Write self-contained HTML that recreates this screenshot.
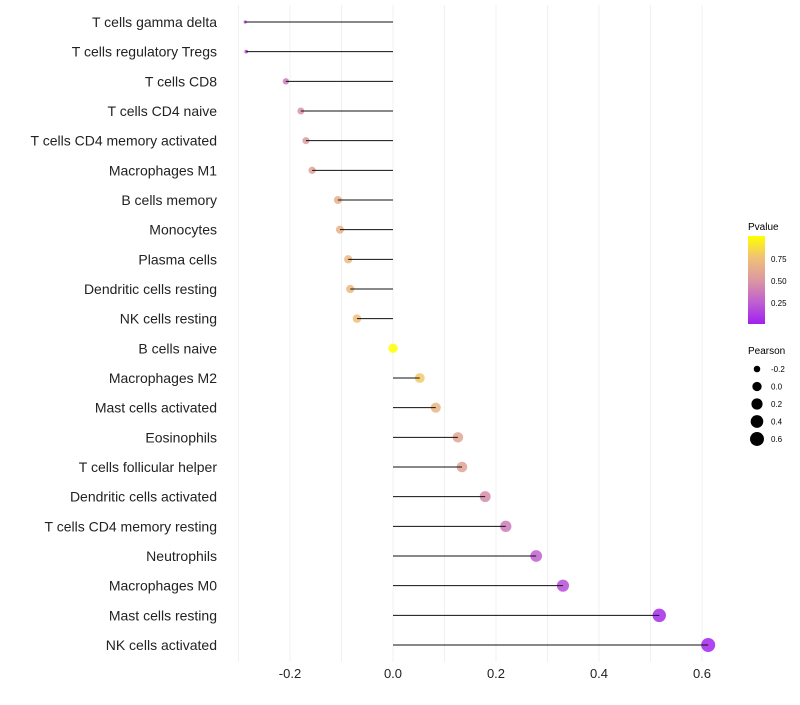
<!DOCTYPE html>
<html><head><meta charset="utf-8"><style>
body{margin:0;background:#fff;}
svg text{font-family:"Liberation Sans",sans-serif;}
</style></head><body>
<svg id="chart" width="800" height="700" xmlns="http://www.w3.org/2000/svg">
<defs><linearGradient id="pg" x1="0" y1="1" x2="0" y2="0">
<stop offset="0" stop-color="#a020f0"/><stop offset="0.25" stop-color="#c060d0"/><stop offset="0.5" stop-color="#dc98a0"/><stop offset="0.75" stop-color="#f0c078"/><stop offset="1" stop-color="#ffff00"/></linearGradient></defs>
<g id="grid"></g><g id="marks"></g><g id="ylabels"></g><g id="xlabels"></g>
<g>
<text x="748" y="230" font-size="10">Pvalue</text>
<rect x="748" y="236" width="17" height="88" fill="url(#pg)"/>
<text x="771" y="262" font-size="8">0.75</text>
<text x="771" y="284" font-size="8">0.50</text>
<text x="771" y="306" font-size="8">0.25</text>
</g>
<g>
<text x="748" y="354" font-size="10">Pearson</text>
<g id="sizeleg"></g>
</g>
</svg>
<script>
const cells=["T cells gamma delta","T cells regulatory  Tregs","T cells CD8","T cells CD4 naive","T cells CD4 memory activated","Macrophages M1","B cells memory","Monocytes","Plasma cells","Dendritic cells resting","NK cells resting","B cells naive","Macrophages M2","Mast cells activated","Eosinophils","T cells follicular helper","Dendritic cells activated","T cells CD4 memory resting","Neutrophils","Macrophages M0","Mast cells resting","NK cells activated"];
const pearson=[-0.287,-0.285,-0.208,-0.179,-0.169,-0.157,-0.107,-0.103,-0.087,-0.083,-0.070,0.0,0.052,0.083,0.126,0.134,0.179,0.219,0.278,0.330,0.517,0.612];
const pvalue=[0.15,0.16,0.38,0.48,0.52,0.55,0.65,0.66,0.70,0.71,0.75,1.0,0.78,0.68,0.58,0.56,0.45,0.36,0.25,0.18,0.04,0.02];
const xTicks=[-0.2,0.0,0.2,0.4,0.6];
const sizeLegend=[-0.2,0.0,0.2,0.4,0.6];
const NS="http://www.w3.org/2000/svg";
const X=v=>393+v*515;
const Y=i=>22+i*(623/21);
const vmin=Math.min(...pearson),vmax=Math.max(...pearson);
const R=v=>{const t=Math.max(0,Math.min(1,(v-vmin)/(vmax-vmin)));return 1.6+5.4*Math.sqrt(t);};
const stops=[[0,[160,32,240]],[0.25,[192,96,208]],[0.5,[220,152,160]],[0.75,[240,192,120]],[1,[255,255,0]]];
function col(p){for(let i=1;i<stops.length;i++){if(p<=stops[i][0]){const a=stops[i-1],b=stops[i],t=(p-a[0])/(b[0]-a[0]);return `rgb(${a[1].map((c,k)=>Math.round(c+(b[1][k]-c)*t)).join(',')})`;}}return 'rgb(255,255,0)';}
function mk(tag,attrs,parent){const e=document.createElementNS(NS,tag);for(const k in attrs)e.setAttribute(k,attrs[k]);parent.appendChild(e);return e;}
const grid=document.getElementById('grid'),marks=document.getElementById('marks'),yl=document.getElementById('ylabels'),xl=document.getElementById('xlabels');
for(let v=-0.3;v<=0.61;v+=0.1){const g=mk('line',{x1:X(v),x2:X(v),y1:5,y2:662,stroke:'#f0f0f0','stroke-width':1},grid);

}
xTicks.forEach(v=>{const t=mk('text',{x:X(v),y:678,'font-size':13,'text-anchor':'middle',fill:'#222'},xl);t.textContent=v.toFixed(1);

});
cells.forEach((c,i)=>{const y=Y(i);
const t=mk('text',{x:217,y:y+5,'font-size':14,'text-anchor':'end',fill:'#222'},yl);t.textContent=c;


const p=mk('circle',{cx:X(pearson[i]),cy:y,r:R(pearson[i]),fill:col(pvalue[i]),'fill-opacity':0.85},marks);


const l=mk('line',{x1:X(0),x2:X(pearson[i]),y1:y,y2:y,stroke:'#111','stroke-width':1},marks);

});
const sl=document.getElementById('sizeleg');
sizeLegend.forEach((v,i)=>{const y=369+i*17.5;
const c=mk('circle',{cx:757,cy:y,r:R(v),fill:'#000'},sl);


const t=mk('text',{x:771,y:y+3,'font-size':8},sl);t.textContent=v.toFixed(1);

});
</script>
</body></html>
